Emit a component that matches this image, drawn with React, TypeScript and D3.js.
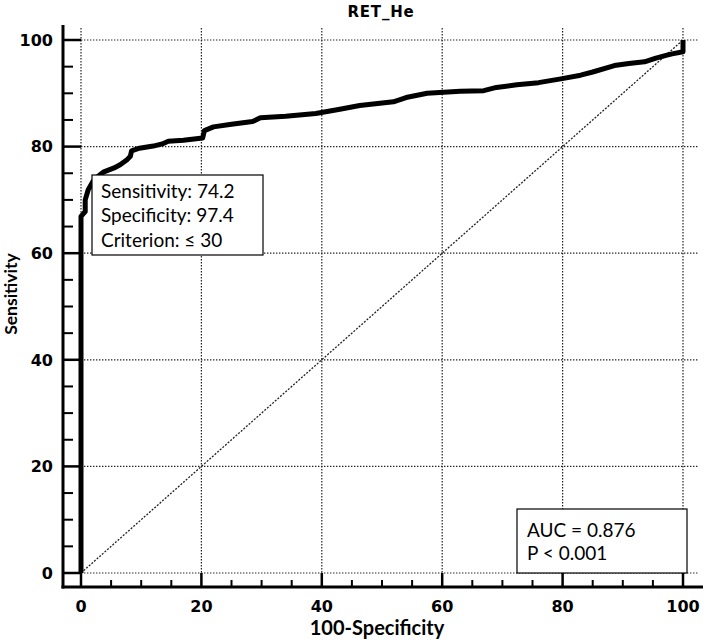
import * as d3 from 'd3';
import React, { useEffect, useRef } from 'react';

// ROC curve points: 100-Specificity, Sensitivity
const fprValues = [0, 0, 0.7, 0.7, 1.2, 2.0, 2.6, 3.7, 5.5, 6.5, 7.7, 8.2, 8.4, 9.7, 12, 13.5, 14.5, 17, 20.2, 20.5, 22, 25, 28.5, 29.8, 34, 39, 43, 46.3, 51.9, 54, 57.5, 63, 66.9, 69, 72.4, 76, 79.7, 83, 85, 88.6, 91, 93.6, 95.5, 97.5, 98.2, 100, 100];
const sensValues = [0, 66.9, 67.8, 70, 71.9, 73.5, 74.2, 75.2, 76.0, 76.6, 77.6, 78.2, 79.2, 79.7, 80.1, 80.5, 81.0, 81.2, 81.6, 83.0, 83.7, 84.2, 84.7, 85.4, 85.7, 86.2, 87.0, 87.7, 88.4, 89.2, 90.0, 90.4, 90.5, 91.1, 91.6, 92.0, 92.7, 93.4, 94.0, 95.2, 95.6, 95.9, 96.6, 97.2, 97.4, 97.8, 100];

const majorTicks = [0, 20, 40, 60, 80, 100];
const minorTicks = [5, 10, 15, 25, 30, 35, 45, 50, 55, 65, 70, 75, 85, 90, 95];

const titleText = 'RET_He';
const xLabel = '100-Specificity';
const yLabel = 'Sensitivity';
const criterionLines = ['Sensitivity: 74.2', 'Specificity: 97.4', 'Criterion: \u2264 30'];
const aucLines = ['AUC = 0.876', 'P < 0.001'];

const W = 709;
const H = 644;

const App = () => {
	const chartRef = useRef(null);

	useEffect(() => {
		document.body.style.margin = '0';
		const svg = d3.select(chartRef.current);
		svg.selectAll('*').remove();

		const x = d3.scaleLinear().domain([0, 100]).range([81, 683]);
		const y = d3.scaleLinear().domain([0, 100]).range([573, 40]);

		const axisX = 63; // offset y axis
		const axisY = 587; // offset x axis
		const tickFont = 'DejaVu Sans';
		const labelFont = 'Lato';

		// grid
		const grid = svg.append('g')
			.attr('stroke', '#222')
			.attr('stroke-width', 1.2)
			.attr('stroke-dasharray', '1.4,1.6');
		grid.selectAll('line.h')
			.data(majorTicks)
			.enter().append('line')
			.attr('x1', x(0)).attr('x2', 698)
			.attr('y1', d => y(d)).attr('y2', d => y(d));
		grid.selectAll('line.v')
			.data(majorTicks)
			.enter().append('line')
			.attr('class', 'v')
			.attr('y1', 28).attr('y2', axisY)
			.attr('x1', d => x(d)).attr('x2', d => x(d));

		// diagonal reference line
		svg.append('line')
			.attr('x1', x(0)).attr('y1', y(0))
			.attr('x2', x(100)).attr('y2', y(100))
			.attr('stroke', '#222')
			.attr('stroke-width', 1.3)
			.attr('stroke-dasharray', '2,1.5');

		// ROC curve
		const pts = fprValues.map((f, i) => [f, sensValues[i]]);
		const line = d3.line().x(d => x(d[0])).y(d => y(d[1]));
		svg.append('path')
			.attr('d', line(pts))
			.attr('fill', 'none')
			.attr('stroke', '#000')
			.attr('stroke-width', 5)
			.attr('stroke-linejoin', 'round');

		// axes
		const ax = svg.append('g').attr('stroke', '#000');
		ax.append('line')
			.attr('x1', axisX).attr('x2', axisX)
			.attr('y1', 25).attr('y2', axisY + 1.5)
			.attr('stroke-width', 3);
		ax.append('line')
			.attr('x1', axisX - 1.5).attr('x2', 703)
			.attr('y1', axisY).attr('y2', axisY)
			.attr('stroke-width', 3);
		ax.selectAll('line.ym')
			.data(majorTicks)
			.enter().append('line')
			.attr('x1', axisX).attr('x2', x(0))
			.attr('y1', d => y(d)).attr('y2', d => y(d))
			.attr('stroke-width', 2.5);
		ax.selectAll('line.yn')
			.data(minorTicks)
			.enter().append('line')
			.attr('class', 'yn')
			.attr('x1', axisX).attr('x2', axisX + 10)
			.attr('y1', d => y(d)).attr('y2', d => y(d))
			.attr('stroke-width', 2);
		ax.selectAll('line.xm')
			.data(majorTicks)
			.enter().append('line')
			.attr('class', 'xm')
			.attr('y1', axisY).attr('y2', y(0))
			.attr('x1', d => x(d)).attr('x2', d => x(d))
			.attr('stroke-width', 2.5);
		ax.selectAll('line.xn')
			.data(minorTicks)
			.enter().append('line')
			.attr('class', 'xn')
			.attr('y1', axisY).attr('y2', axisY - 7)
			.attr('x1', d => x(d)).attr('x2', d => x(d))
			.attr('stroke-width', 2);

		// tick labels
		svg.append('g')
			.selectAll('text')
			.data(majorTicks)
			.enter().append('text')
			.attr('x', 53)
			.attr('y', d => y(d))
			.attr('dy', '0.36em')
			.attr('text-anchor', 'end')
			.attr('font-family', tickFont)
			.attr('font-weight', 'bold')
			.attr('font-size', 16)
			.text(d => d);
		svg.append('g')
			.selectAll('text')
			.data(majorTicks)
			.enter().append('text')
			.attr('x', d => x(d))
			.attr('y', 612)
			.attr('text-anchor', 'middle')
			.attr('font-family', tickFont)
			.attr('font-weight', 'bold')
			.attr('font-size', 16)
			.text(d => d);

		// titles
		svg.append('text')
			.attr('x', 381).attr('y', 17)
			.attr('text-anchor', 'middle')
			.attr('font-family', tickFont)
			.attr('font-weight', 'bold')
			.attr('font-size', 15)
			.attr('letter-spacing', 0.8)
			.text(titleText);
		svg.append('text')
			.attr('x', 377).attr('y', 635)
			.attr('text-anchor', 'middle')
			.attr('font-family', labelFont)
			.attr('font-weight', 'bold')
			.attr('font-size', 20)
			.text(xLabel);
		svg.append('text')
			.attr('transform', 'translate(17,294) rotate(-90)')
			.attr('text-anchor', 'middle')
			.attr('font-family', labelFont)
			.attr('font-weight', 'bold')
			.attr('font-size', 17.5)
			.text(yLabel);

		// criterion box
		const cb = svg.append('g');
		cb.append('rect')
			.attr('x', 92).attr('y', 175)
			.attr('width', 171).attr('height', 80)
			.attr('fill', '#fff').attr('stroke', '#000').attr('stroke-width', 1.2);
		cb.selectAll('text')
			.data(criterionLines)
			.enter().append('text')
			.attr('x', 101)
			.attr('y', (d, i) => 198 + i * 24.3)
			.attr('font-family', labelFont)
			.attr('font-size', 19)
			.text(d => d);

		// AUC box
		const ab = svg.append('g');
		ab.append('rect')
			.attr('x', 517).attr('y', 509)
			.attr('width', 170).attr('height', y(0) - 509)
			.attr('fill', '#fff').attr('stroke', '#000').attr('stroke-width', 1.2);
		ab.selectAll('text')
			.data(aucLines)
			.enter().append('text')
			.attr('x', 527)
			.attr('y', (d, i) => 537 + i * 23)
			.attr('font-family', labelFont)
			.attr('font-size', 19)
			.text(d => d);
	}, []);

	return (
		<svg ref={chartRef} width={W} height={H} style={{ display: 'block', background: '#fff' }}></svg>
	);
};

export default App;
